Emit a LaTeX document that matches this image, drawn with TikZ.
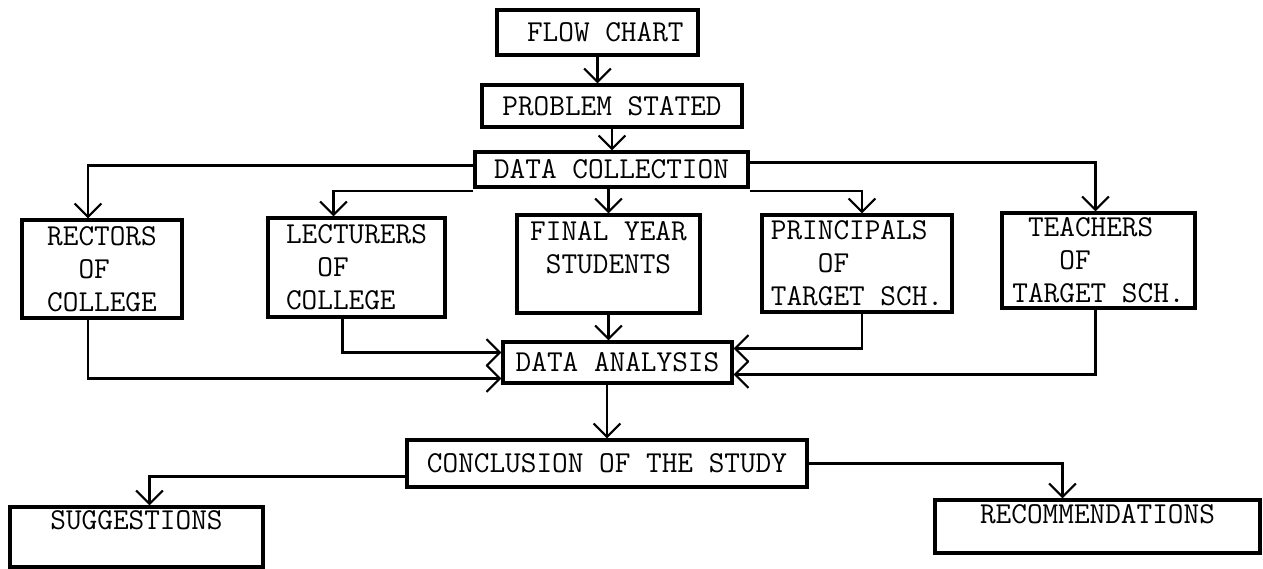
\documentclass[tikz,border=0pt]{standalone}
\usepackage{fontspec}
\usetikzlibrary{arrows.meta}
\newdimen\px \px=0.75pt

\begin{document}
\begin{tikzpicture}[
      x=0.75pt, y=-0.75pt,
      box/.style={rectangle, draw, line width=2.4pt, align=left, inner sep=2pt, font=\ttfamily\fontsize{22.8}{24.75}\selectfont},
      arrow/.style={-{Straight Barb[length=10pt,width=20pt]}, line width=1.6pt}
    ]
      \fill[white] (0,0) rectangle (1263,568);
      \useasboundingbox (0,0) rectangle (1263,568);

      % top of the chart
      \node[box, minimum width=201\px, minimum height=45\px] (title) at (597.5,32.5) {\hphantom{O}FLOW CHART};
      \node[box, minimum width=260\px, minimum height=42\px] (problem) at (612,106) {PROBLEM STATED};
      \node[box, minimum width=273\px, minimum height=35\px] (collect) at (611.5,169.5) {DATA COLLECTION};

      % the five groups asked
      \node[box, minimum width=160\px, minimum height=98\px] (rectors) at (102,269) {RECTORS\\\hphantom{OO}OF\\COLLEGE};
      \node[box, minimum width=177\px, minimum height=99\px] (lecturers) at (356.5,267.5) {LECTURERS\\\hphantom{OO}OF\\COLLEGE};
      \node[box, minimum width=183\px, minimum height=98\px] (students) at (608.5,264) {FINAL YEAR\\\hphantom{O}STUDENTS\\\mbox{}};
      \node[box, minimum width=190\px, minimum height=97\px] (principals) at (857,263.5) {PRINCIPALS\\\hphantom{OOO}OF\\TARGET SCH.};
      \node[box, minimum width=193\px, minimum height=95\px] (teachers) at (1098.5,260.5) {\hphantom{O}TEACHERS\\\hphantom{OOO}OF\\TARGET SCH.};

      \node[box, minimum width=229\px, minimum height=41\px] (analysis) at (617.5,362.5) {DATA ANALYSIS};
      \node[box, minimum width=400\px, minimum height=47\px] (conclusion) at (607,463.5) {CONCLUSION OF THE STUDY};

      \node[box, minimum width=253\px, minimum height=60\px] (suggestions) at (136.5,537) {SUGGESTIONS\\\mbox{}};
      \node[box, minimum width=325\px, minimum height=53\px] (recommendations) at (1097.5,526.5) {RECOMMENDATIONS\\[-6pt]\mbox{}};

      \draw[arrow] (title.south) -- (title.south |- problem.north);
      \draw[arrow] (problem.south) -- (problem.south |- collect.north);

      \draw[arrow] ([yshift=4\px]collect.west) -| ([xshift=-14\px]rectors.north);
      \draw[arrow] ([yshift=-2\px]collect.south west) -| ([xshift=-23\px]lecturers.north);
      \draw[arrow] (students.north |- collect.south) -- (students.north);
      \draw[arrow] ([yshift=-2\px]collect.south east) -| ([xshift=5\px]principals.north);
      \draw[arrow] ([yshift=7\px]collect.east) -| ([xshift=-3\px]teachers.north);

      \draw[arrow] ([xshift=-14\px]rectors.south) |- ([yshift=-16\px]analysis.west);
      \draw[arrow] ([xshift=-14\px]lecturers.south) |- ([yshift=10\px]analysis.west);
      \draw[arrow] (students.south) -- (students.south |- analysis.north);
      \draw[arrow] ([xshift=5\px]principals.south) |- ([yshift=14\px]analysis.east);
      \draw[arrow] ([xshift=-3\px]teachers.south) |- ([yshift=-12\px]analysis.east);

      \draw[arrow] (conclusion.north |- analysis.south) -- (conclusion.north);
      \draw[arrow] ([yshift=-13\px]conclusion.west) -| ([xshift=13\px]suggestions.north);
      \draw[arrow] (conclusion.east) -| ([xshift=-35\px]recommendations.north);
    \end{tikzpicture}
\end{document}
